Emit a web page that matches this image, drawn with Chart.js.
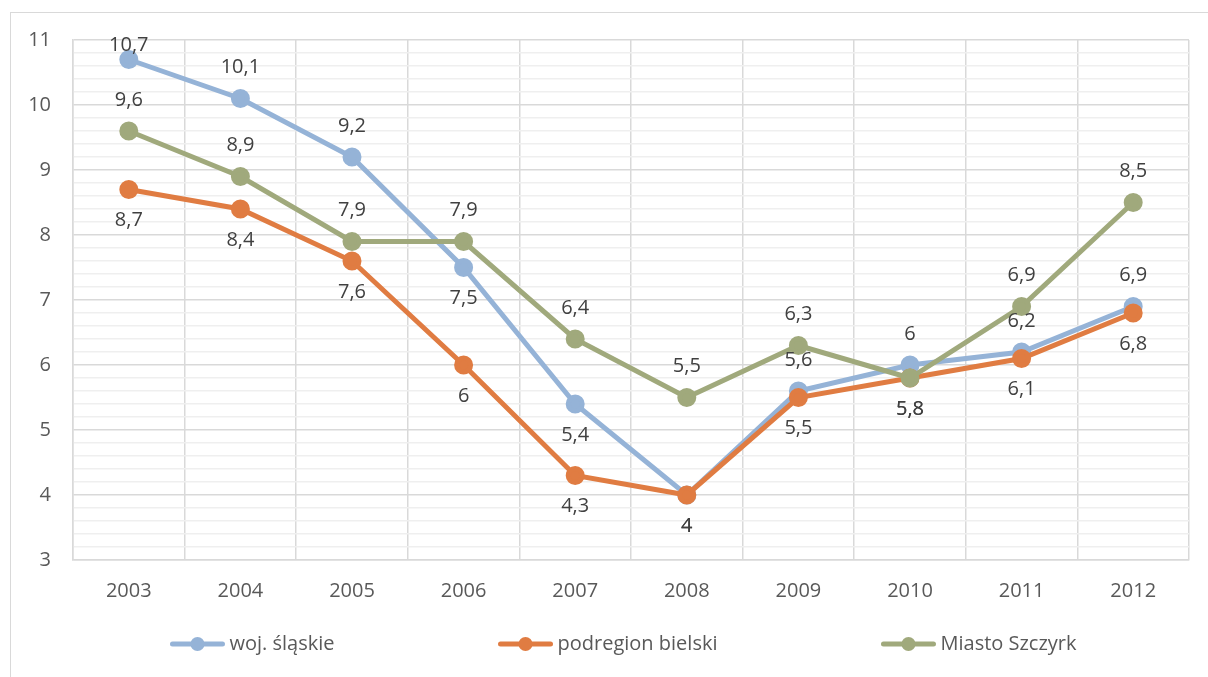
<!DOCTYPE html>
<html>
<head>
<meta charset="utf-8">
<script src="https://cdn.jsdelivr.net/npm/chart.js@4.4.1/dist/chart.umd.min.js"></script>
<style>
  html, body { margin: 0; padding: 0; background: #fff; overflow: hidden; }
  #frame { position: absolute; left: 10px; top: 12px; width: 1220px; height: 700px; border: 1px solid #d9d9d9; }
  #wrap { position: absolute; left: 0; top: 0; width: 1208px; height: 677px; }
</style>
</head>
<body>
<div id="frame"></div>
<div id="wrap"><canvas id="chart"></canvas></div>
<script>
// Dane z wykresu
const years = ['2003', '2004', '2005', '2006', '2007', '2008', '2009', '2010', '2011', '2012'];
const slaskie = [10.7, 10.1, 9.2, 7.5, 5.4, 4, 5.6, 6, 6.2, 6.9];
const bielski = [8.7, 8.4, 7.6, 6, 4.3, 4, 5.5, 5.8, 6.1, 6.8];
const szczyrk = [9.6, 8.9, 7.9, 7.9, 6.4, 5.5, 6.3, 5.8, 6.9, 8.5];
const seriesNames = ['woj. śląskie', 'podregion bielski', 'Miasto Szczyrk'];

const FONT = "'Open Sans', sans-serif";
const TEXT = '#595959';

// etykiety wartości (bez pluginu datalabels)
const valueLabels = {
    id: 'valueLabels',
    afterDatasetsDraw(chart) {
        const ctx = chart.ctx;
        ctx.save();
        ctx.font = '20px ' + FONT;
        ctx.fillStyle = '#404040';
        ctx.textAlign = 'center';
        ctx.textBaseline = 'middle';
        chart.data.datasets.forEach((ds, i) => {
            const meta = chart.getDatasetMeta(i);
            meta.data.forEach((pt, j) => {
                const side = ds.labelSide[j];
                let y = side === 'top' ? pt.y - 31 : pt.y + 31;
                if (y < 45) y = 45;
                ctx.fillText(String(ds.data[j]).replace('.', ','), pt.x, y);
            });
        });
        ctx.restore();
    }
};

// legenda w stylu Excela: linia z kółkiem, szeroko rozstawiona
const excelLegend = {
    id: 'excelLegend',
    afterDraw(chart) {
        const ctx = chart.ctx;
        const area = chart.chartArea;
        const iconW = 56, textGap = 4, itemGap = 163;
        const y = 644;
        ctx.save();
        ctx.font = '20px ' + FONT;
        const items = chart.data.datasets.map(ds => ({
            ds: ds,
            w: iconW + textGap + ctx.measureText(ds.label).width
        }));
        const total = items.reduce((a, it) => a + it.w, 0) + itemGap * (items.length - 1);
        let x = (area.left + area.right) / 2 - total / 2 - 8;
        items.forEach(it => {
            const c = it.ds.borderColor;
            ctx.strokeStyle = c;
            ctx.fillStyle = c;
            ctx.lineWidth = 5;
            ctx.lineCap = 'round';
            ctx.beginPath();
            ctx.moveTo(x + 3, y);
            ctx.lineTo(x + iconW - 3, y);
            ctx.stroke();
            ctx.beginPath();
            ctx.arc(x + iconW / 2, y, 7, 0, Math.PI * 2);
            ctx.fill();
            ctx.fillStyle = TEXT;
            ctx.textAlign = 'left';
            ctx.textBaseline = 'middle';
            ctx.fillText(it.ds.label, x + iconW + textGap, y);
            x += it.w + itemGap;
        });
        ctx.restore();
    }
};

function isMajor(v) {
    return Math.abs(v - Math.round(v)) < 1e-6;
}

function makeSet(label, data, color, order, labelSide) {
    return {
        label: label,
        data: data,
        borderColor: color,
        backgroundColor: color,
        pointBackgroundColor: color,
        pointBorderColor: color,
        borderWidth: 5,
        pointRadius: 7,
        pointHoverRadius: 7,
        tension: 0,
        order: order,
        labelSide: labelSide
    };
}

const T = 'top', B = 'bottom';

const config = {
    type: 'line',
    data: {
        labels: years,
        datasets: [
            makeSet(seriesNames[0], slaskie, '#95b3d7', 2, [T, T, T, B, B, B, T, T, T, T]),
            makeSet(seriesNames[1], bielski, '#e07c42', 1, [B, B, B, B, B, B, B, B, B, B]),
            makeSet(seriesNames[2], szczyrk, '#a0a97c', 0, [T, T, T, T, T, T, T, B, T, T])
        ]
    },
    options: {
        responsive: true,
        maintainAspectRatio: false,
        animation: false,
        layout: { padding: { top: 40, right: 19, left: 0, bottom: 55 } },
        plugins: {
            tooltip: { enabled: false },
            legend: { display: false }
        },
        scales: {
            x: {
                offset: true,
                grid: { color: '#d9d9d9', lineWidth: 1.5, offset: true, drawTicks: false },
                border: { color: '#d9d9d9', width: 1.5 },
                ticks: { color: TEXT, font: { family: FONT, size: 20 }, padding: 19 },
                afterFit(scale) { scale.height = 62; }
            },
            y: {
                min: 3,
                max: 11,
                grid: {
                    drawTicks: false,
                    color: ctx => isMajor(ctx.tick.value) ? '#d9d9d9' : '#efefef',
                    lineWidth: 1.5
                },
                border: { color: '#d9d9d9', width: 1.5 },
                ticks: {
                    stepSize: 0.2,
                    autoSkip: false,
                    color: TEXT,
                    font: { family: FONT, size: 20 },
                    padding: 22,
                    callback: v => isMajor(v) ? String(Math.round(v)) : ''
                },
                afterFit(scale) { scale.width = 73; }
            }
        }
    },
    plugins: [valueLabels, excelLegend]
};

new Chart(document.getElementById('chart').getContext('2d'), config);
</script>
</body>
</html>
